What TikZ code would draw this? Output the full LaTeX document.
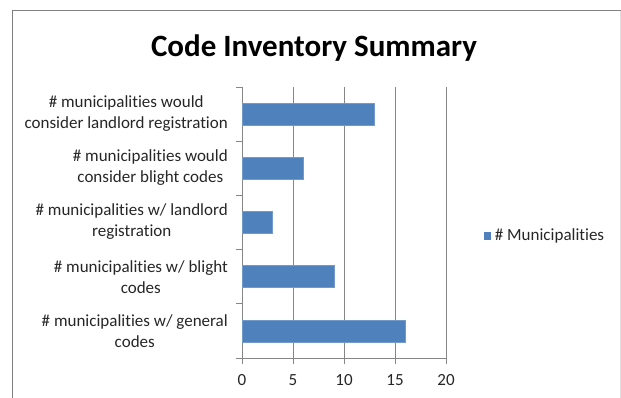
\documentclass[tikz,border=0pt]{standalone}
\usepackage{fontspec}
\setmainfont[Ligatures=NoCommon]{Carlito}
\usetikzlibrary{positioning}
\definecolor{barblue}{HTML}{4F81BD}
\definecolor{gridgray}{HTML}{868686}
\tikzset{
  catlabel/.style={align=center, anchor=east, font=\fontsize{17}{21}\selectfont, text=black!85, inner sep=0pt},
  ticklabel/.style={anchor=north, font=\fontsize{17}{20}\selectfont, text=black!85, inner sep=0pt},
  bar/.style={fill=barblue, draw=barblue!80!white, line width=0.6pt},
  gridline/.style={draw=gridgray, line width=0.7pt},
}
\begin{document}
\begin{tikzpicture}[x=1pt, y=-1pt]
\useasboundingbox (0,0) rectangle (621,398);
% chart frame
\draw[gray, line width=1pt] (12,398) -- (12,11) -- (621,11);
\draw[gray!25, line width=0.8pt] (620,11) -- (620,398);
\node[font=\fontsize{31}{36}\selectfont\bfseries, inner sep=0pt] (title) at (314,48) {Code Inventory Summary};
% grid and axes
\foreach \v in {5,10,15,20}
  \draw[gridline] ({242+10.2*\v},87) -- ({242+10.2*\v},358);
\draw[gridline] (242,87) -- (242,358) -- (446,358);
\foreach \k in {0,...,5}
  \draw[gridline] (236,{87+54.2*\k}) -- (242,{87+54.2*\k});
\foreach \v in {0,5,10,15,20} {
  \draw[gridline] ({242+10.2*\v},358) -- ({242+10.2*\v},364);
  \node[ticklabel] (t\v) at ({242+10.2*\v},374) {\v};
}
% bars, top to bottom
\foreach \k/\n in {0/13,1/6,2/3,3/9,4/16}
  \draw[bar] (242,{87+54.2*\k+16}) rectangle ({242+10.2*\n},{87+54.2*\k+38});
\node[catlabel] (lab1) at (228,114) {\# municipalities would\\consider landlord registration};
\node[catlabel] (lab2) at (228,168) {\# municipalities would\\consider blight codes\ };
\node[catlabel] (lab3) at (228,222) {\# municipalities w/ landlord\\registration};
\node[catlabel] (lab4) at (228,277) {\# municipalities w/ blight\\codes};
\node[catlabel] (lab5) at (228,331) {\# municipalities w/ general\\codes};
% legend
\node[fill=barblue, minimum size=7pt, inner sep=0pt] (key) at (487,236) {};
\node[right=4pt of key, font=\fontsize{17}{20}\selectfont, text=black!85, inner sep=0pt] (legend) {\# Municipalities};
\end{tikzpicture}
\end{document}
